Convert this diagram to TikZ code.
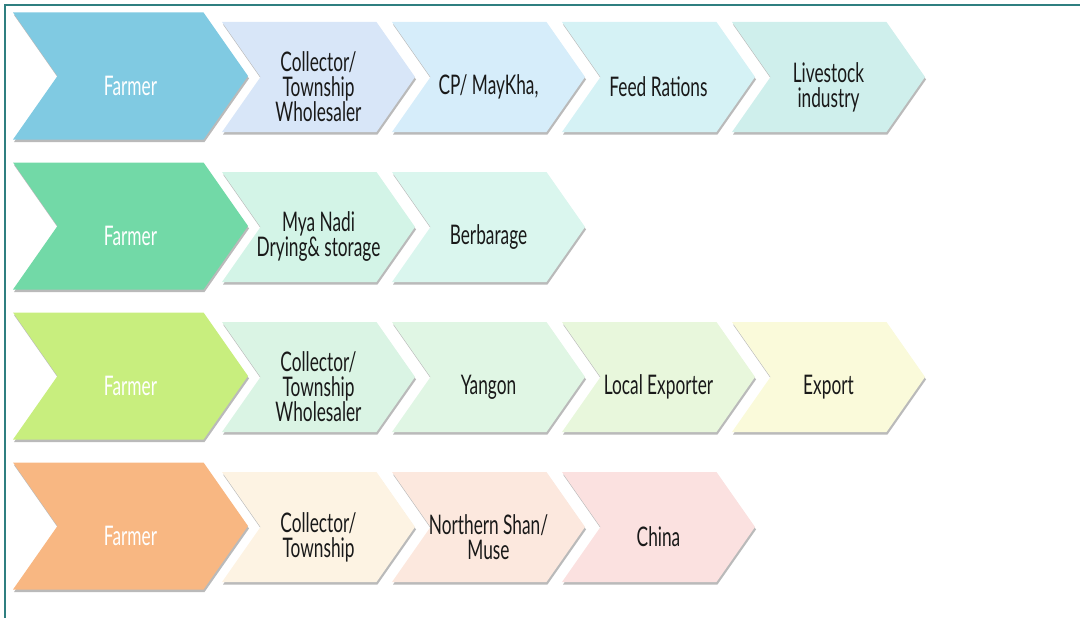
\documentclass[tikz,border=0pt]{standalone}
\usepackage{fontspec}
\setmainfont{Lato}[FakeStretch=0.64]
\usetikzlibrary{shapes.symbols,shadows}

\definecolor{frame}{HTML}{2F7F80}
\definecolor{farmA}{HTML}{80CAE2}
\definecolor{farmB}{HTML}{72D9A7}
\definecolor{farmC}{HTML}{C8EE7E}
\definecolor{farmD}{HTML}{F8B782}
\definecolor{aOne}{HTML}{D8E6F8}
\definecolor{aTwo}{HTML}{D6EDFA}
\definecolor{aThree}{HTML}{D5F2F5}
\definecolor{aFour}{HTML}{CFEFEC}
\definecolor{bOne}{HTML}{D3F4E7}
\definecolor{bTwo}{HTML}{DAF6EE}
\definecolor{cOne}{HTML}{DAF4E4}
\definecolor{cTwo}{HTML}{E0F6E4}
\definecolor{cThree}{HTML}{E8F7DC}
\definecolor{cFour}{HTML}{FAFADA}
\definecolor{dOne}{HTML}{FDF3E3}
\definecolor{dTwo}{HTML}{FCE8DE}
\definecolor{dThree}{HTML}{FBE1E0}

\tikzset{
  chev/.style={shape=signal, signal from=west, signal to=east, signal pointer angle=110,
    inner sep=0pt, outer sep=0pt, minimum width=193pt, minimum height=110pt,
    drop shadow={shadow xshift=1pt, shadow yshift=-2.5pt, fill=black!45, opacity=.6}},
  farmer/.style={chev, minimum width=235pt, minimum height=127pt},
  lbl/.style={align=center, font=\fontsize{27}{25}\selectfont, text=black!90},
  flbl/.style={lbl, text=white}
}

\begin{document}
\begin{tikzpicture}[x=1pt,y=-1pt]
    \useasboundingbox (0,0) rectangle (1080,618);
    \draw[frame, line width=1.5pt] (5,618) -- (5,5) -- (1080,5);

    % first row
    \node[farmer, fill=farmA] (f1) at (130.5,76) {};
    \node[chev, fill=aOne] (a1) at (318.5,77) {};
    \node[chev, fill=aTwo] (a2) at (488.5,77) {};
    \node[chev, fill=aThree] (a3) at (658.5,77) {};
    \node[chev, fill=aFour] (a4) at (828.5,77) {};
    \node[flbl] (tf1) at ([yshift=-10pt]f1.center) {Farmer};
    \node[lbl] (ta1) at ([yshift=-10pt]a1.center) {Collector/\\Township\\Wholesaler};
    \node[lbl] (ta2) at ([yshift=-10pt]a2.center) {CP/ MayKha,};
    \node[lbl] (ta3) at ([yshift=-10pt]a3.center) {Feed Rations};
    \node[lbl] (ta4) at ([yshift=-10pt]a4.center) {Livestock\\industry};

    % second row
    \node[farmer, fill=farmB] (f2) at (130.5,226) {};
    \node[chev, fill=bOne] (b1) at (318.5,227) {};
    \node[chev, fill=bTwo] (b2) at (488.5,227) {};
    \node[flbl] (tf2) at ([yshift=-10pt]f2.center) {Farmer};
    \node[lbl] (tb1) at ([yshift=-10pt]b1.center) {Mya Nadi\\Drying\& storage};
    \node[lbl] (tb2) at ([yshift=-10pt]b2.center) {Berbarage};

    % third row
    \node[farmer, fill=farmC] (f3) at (130.5,376) {};
    \node[chev, fill=cOne] (c1) at (318.5,377) {};
    \node[chev, fill=cTwo] (c2) at (488.5,377) {};
    \node[chev, fill=cThree] (c3) at (658.5,377) {};
    \node[chev, fill=cFour] (c4) at (828.5,377) {};
    \node[flbl] (tf3) at ([yshift=-10pt]f3.center) {Farmer};
    \node[lbl] (tc1) at ([yshift=-10pt]c1.center) {Collector/\\Township\\Wholesaler};
    \node[lbl] (tc2) at ([yshift=-10pt]c2.center) {Yangon};
    \node[lbl] (tc3) at ([yshift=-10pt]c3.center) {Local Exporter};
    \node[lbl] (tc4) at ([yshift=-10pt]c4.center) {Export};

    % fourth row
    \node[farmer, fill=farmD] (f4) at (130.5,526) {};
    \node[chev, fill=dOne] (d1) at (318.5,527) {};
    \node[chev, fill=dTwo] (d2) at (488.5,527) {};
    \node[chev, fill=dThree] (d3) at (658.5,527) {};
    \node[flbl] (tf4) at ([yshift=-10pt]f4.center) {Farmer};
    \node[lbl] (td1) at ([yshift=-10pt]d1.center) {Collector/\\Township};
    \node[lbl] (td2) at ([yshift=-10pt]d2.center) {Northern Shan/\\Muse};
    \node[lbl] (td3) at ([yshift=-10pt]d3.center) {China};
\end{tikzpicture}
\end{document}
